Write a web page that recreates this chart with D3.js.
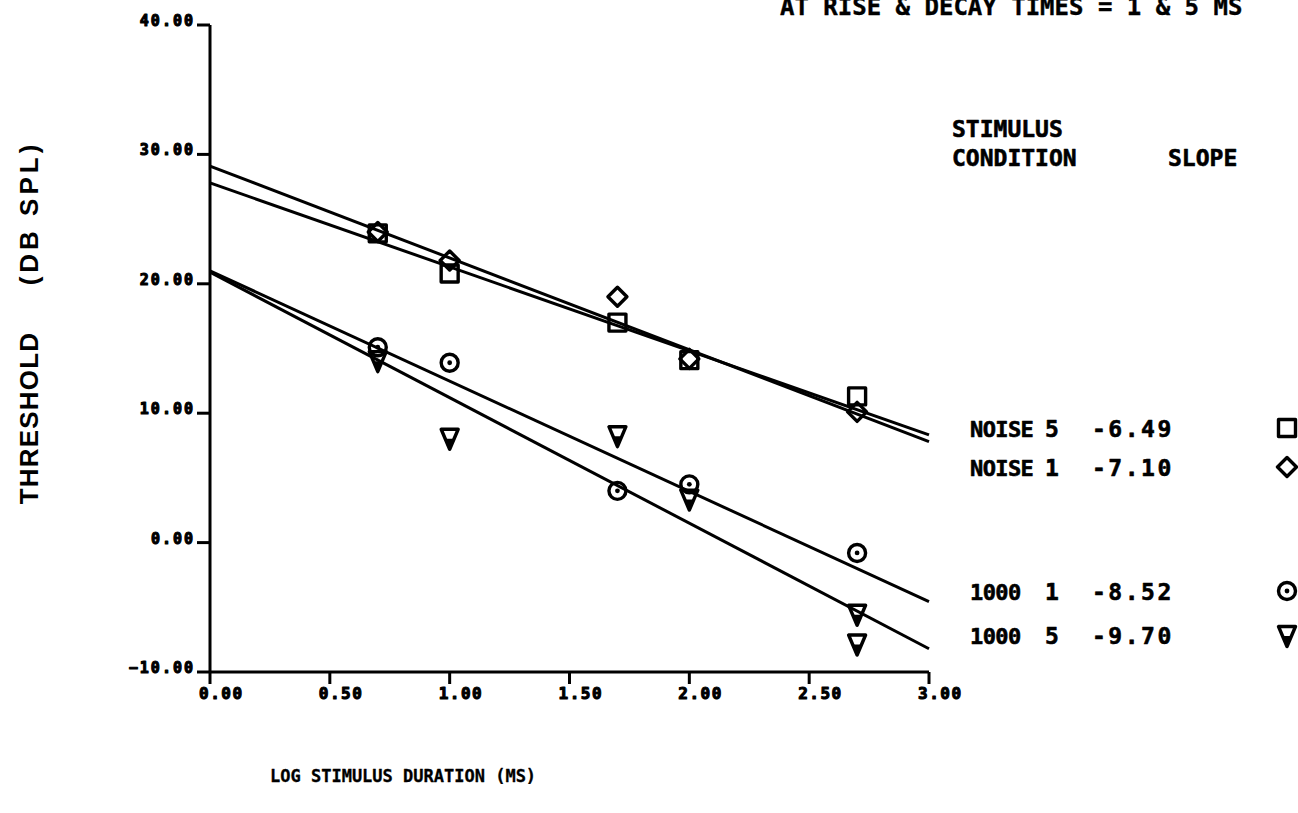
<!DOCTYPE html>
<html>
<head>
<meta charset="utf-8">
<script src="https://cdn.jsdelivr.net/npm/d3@7/dist/d3.min.js"></script>
<style>
  html, body { margin: 0; padding: 0; background: #fff; }
  svg { display: block; }
  text { fill: #000; }
</style>
</head>
<body>
<svg id="chart" width="1298" height="813"></svg>
<script>
// Log stimulus duration (log ms) at which thresholds were measured
const logDuration = [0.7, 1.0, 1.7, 2.0, 2.7];

// Threshold (dB SPL) per stimulus condition
const noise5 = [23.9, 20.8, 17.0, 14.1, 11.3];
const noise1 = [24.0, 21.8, 19.0, 14.2, 10.1];
const tone1  = [15.1, 13.9, 4.0, 4.5, -0.8];
const tone5X = [0.7, 1.0, 1.7, 2.0, 2.7, 2.7];
const tone5  = [14.1, 8.1, 8.3, 3.4, -5.5, -7.8];

// Fitted lines: slope (dB per log unit) and intercept at log duration 0
const conditionNames = ["NOISE", "NOISE", "1000", "1000"];
const conditionRise  = ["5", "1", "1", "5"];
const slopes     = [-6.49, -7.10, -8.52, -9.70];
const intercepts = [27.8, 29.1, 21.0, 20.9];
const symbols    = ["square", "diamond", "circle", "triangle"];

// Axis ticks
const xTicks = [0, 0.5, 1.0, 1.5, 2.0, 2.5, 3.0];
const yTicks = [-10, 0, 10, 20, 30, 40];

const svg = d3.select("#chart");
const x = d3.scaleLinear().domain([0, 3]).range([210, 929]);
const y = d3.scaleLinear().domain([-10, 40]).range([672, 25]);

const monoFont = "'DejaVu Sans Mono', monospace";
const ink = "#000";

// Heavy plotter-style lettering
const heavy = (sel, size, w) => sel
  .attr("font-family", monoFont).attr("font-weight", "bold").attr("font-size", size)
  .attr("stroke", ink).attr("stroke-width", w).attr("stroke-linejoin", "round");

// Marker shapes
function marker(g, type, cx, cy) {
  const s = g.append("g").attr("transform", `translate(${cx},${cy})`)
    .attr("fill", "none").attr("stroke", ink).attr("stroke-width", 3.4)
    .attr("stroke-linejoin", "round");
  if (type === "square") {
    s.append("rect").attr("x", -8.5).attr("y", -8.5).attr("width", 17).attr("height", 17);
  } else if (type === "diamond") {
    s.append("path").attr("d", "M0,-9.5L9.5,0L0,9.5L-9.5,0Z");
  } else if (type === "circle") {
    s.append("circle").attr("r", 8.5);
    s.append("circle").attr("r", 2.4).attr("fill", ink).attr("stroke", "none");
  } else if (type === "triangle") {
    s.append("path").attr("d", "M-8.5,-8.5L8.5,-8.5L0,11.5Z");
    s.append("path").attr("d", "M-3.5,1L3.5,1L0,9.5Z").attr("fill", ink).attr("stroke", "none");
  }
}

// Title (runs off the top edge)
svg.append("text")
  .attr("x", 780).attr("y", 15)
  .call(heavy, 24, 0.4)
  .text("AT RISE & DECAY TIMES = 1 & 5 MS");

// Axes
const axes = svg.append("g").attr("stroke", ink).attr("stroke-width", 3).attr("fill", "none");
axes.append("line").attr("x1", x(0)).attr("x2", x(0)).attr("y1", y(40)).attr("y2", y(-10));
axes.append("line").attr("x1", x(0)).attr("x2", x(3)).attr("y1", y(-10)).attr("y2", y(-10));

yTicks.forEach(v => {
  axes.append("line").attr("x1", x(0) - 13).attr("x2", x(0)).attr("y1", y(v)).attr("y2", y(v));
  svg.append("text")
    .attr("x", x(0) - 15).attr("y", y(v) + 1)
    .attr("text-anchor", "end")
    .call(heavy, 15, 1.1)
    .attr("letter-spacing", 2)
    .text(d3.format(".2f")(v));
});

xTicks.forEach(v => {
  axes.append("line").attr("x1", x(v)).attr("x2", x(v)).attr("y1", y(-10)).attr("y2", y(-10) + 12);
  svg.append("text")
    .attr("x", x(v) - 11).attr("y", y(-10) + 27)
    .call(heavy, 16, 1.1)
    .attr("letter-spacing", 1.5)
    .text(d3.format(".2f")(v));
});

// Axis titles
svg.append("text")
  .attr("transform", `translate(38,418) rotate(-90)`)
  .attr("text-anchor", "middle")
  .attr("font-family", "'Liberation Sans', Arial, sans-serif").attr("font-weight", "bold")
  .attr("font-size", 26).attr("letter-spacing", 1.2)
  .text("THRESHOLD");
svg.append("text")
  .attr("transform", `translate(38,213) rotate(-90)`)
  .attr("text-anchor", "middle")
  .attr("font-family", "'Liberation Sans', Arial, sans-serif").attr("font-weight", "bold")
  .attr("font-size", 26).attr("letter-spacing", 4)
  .text("(DB SPL)");

svg.append("text")
  .attr("x", 270).attr("y", 782)
  .call(heavy, 17, 0.3)
  .text("LOG STIMULUS DURATION (MS)");

// Fitted regression lines
const lineGen = d3.line().x(d => x(d[0])).y(d => y(d[1]));
slopes.forEach((b, i) => {
  const a = intercepts[i];
  svg.append("path")
    .datum([[0, a], [3, a + b * 3]])
    .attr("d", lineGen)
    .attr("fill", "none").attr("stroke", ink).attr("stroke-width", 3);
});

// Data points
const pts = svg.append("g");
logDuration.forEach((t, i) => marker(pts, "square", x(t), y(noise5[i])));
logDuration.forEach((t, i) => marker(pts, "diamond", x(t), y(noise1[i])));
logDuration.forEach((t, i) => marker(pts, "circle", x(t), y(tone1[i])));
tone5X.forEach((t, i) => marker(pts, "triangle", x(t), y(tone5[i])));

// Legend
const legFont = sel => sel.call(heavy, 23, 0.6);
svg.append("text").attr("x", 952).attr("y", 137).call(legFont).text("STIMULUS");
svg.append("text").attr("x", 952).attr("y", 166).call(legFont).text("CONDITION");
svg.append("text").attr("x", 1168).attr("y", 166).call(legFont).text("SLOPE");

const rowY = [437, 476, 600, 644];
slopes.forEach((b, i) => {
  svg.append("text").attr("x", 970).attr("y", rowY[i]).call(legFont)
    .attr("font-size", 22).attr("letter-spacing", -0.6)
    .text(conditionNames[i]);
  svg.append("text").attr("x", 1045).attr("y", rowY[i]).call(legFont).text(conditionRise[i]);
  svg.append("text").attr("x", 1092).attr("y", rowY[i]).call(legFont)
    .attr("letter-spacing", 2.5)
    .text(d3.format(".2f")(b).replace("−", "-"));
  marker(svg, symbols[i], 1287, rowY[i] - 9);
});
</script>
</body>
</html>
